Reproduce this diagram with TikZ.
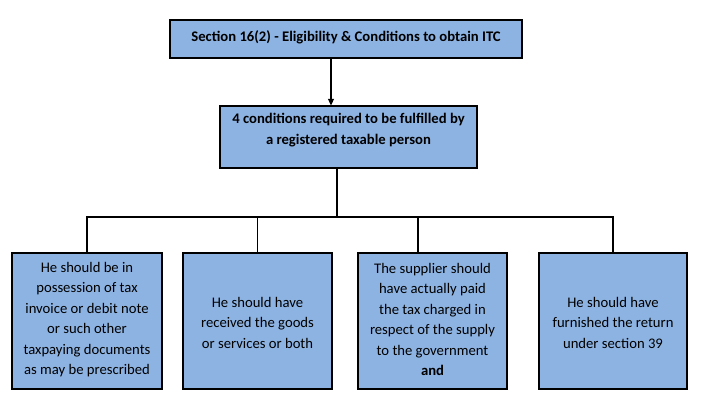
\documentclass[tikz,border=0pt]{standalone}
\usepackage{fontspec}
\setmainfont{Carlito}
\usetikzlibrary{arrows.meta}
\definecolor{boxblue}{HTML}{8DB3E2}
\begin{document}
\begin{tikzpicture}[x=0.75pt,y=-0.75pt,
  box/.style={draw=black,fill=boxblue,line width=0.8pt,rectangle,inner sep=0pt},
  txt/.style={font=\fontsize{11pt}{15.4pt}\selectfont,align=center,inner sep=0pt,text=black},
  conn/.style={draw=black,line width=0.8pt}]
\useasboundingbox (0,0) rectangle (704,405);
\fill[white] (0,0) rectangle (704,405);
% top box
\node[box,minimum width=264pt,minimum height=28.5pt] (top) at (346,39) {};
\node[txt,font=\fontsize{11pt}{15.4pt}\selectfont\bfseries] (toptxt) at (346,37) {Section 16(2) - Eligibility \& Conditions to obtain ITC};
% second box
\node[box,minimum width=192.75pt,minimum height=46.5pt] (cond) at (348.5,137) {};
\node[txt,font=\fontsize{11pt}{15.4pt}\selectfont\bfseries] (condtxt) at (348.5,130) {4 conditions required to be fulfilled by\\a registered taxable person};
% bottom boxes
\node[box,minimum width=112.5pt,minimum height=102pt] (b1) at (87,321) {};
\node[box,minimum width=111.75pt,minimum height=102pt] (b2) at (257.5,321) {};
\node[box,minimum width=111.75pt,minimum height=102pt] (b3) at (432.5,321) {};
\node[box,minimum width=111pt,minimum height=102pt] (b4) at (613,321) {};
\node[txt] (t1) at (87,319.5) {He should be in\\possession of tax\\invoice or debit note\\or such other\\taxpaying documents\\as may be prescribed};
\node[txt] (t2) at (257.5,322.5) {He should have\\received the goods\\or services or both};
\node[txt] (t3) at (432.5,319.5) {The supplier should\\have actually paid\\the tax charged in\\respect of the supply\\to the government\\\textbf{and}};
\node[txt] (t4) at (613,322.5) {He should have\\furnished the return\\under section 39};
% connectors
\coordinate (bus) at (337,217);
\draw[conn,-{Triangle[length=5pt,width=4.5pt]}] (top.south -| 331,0) -- (cond.north -| 331,0);
\draw[conn] (cond.south -| bus) -- (bus);
\draw[conn] (b1.north) |- (bus) -| (b4.north);
\draw[conn] (b2.north) -- (b2.north |- bus);
\draw[conn] (b3.north -| 418,0) -- (418,217);
\end{tikzpicture}
\end{document}
